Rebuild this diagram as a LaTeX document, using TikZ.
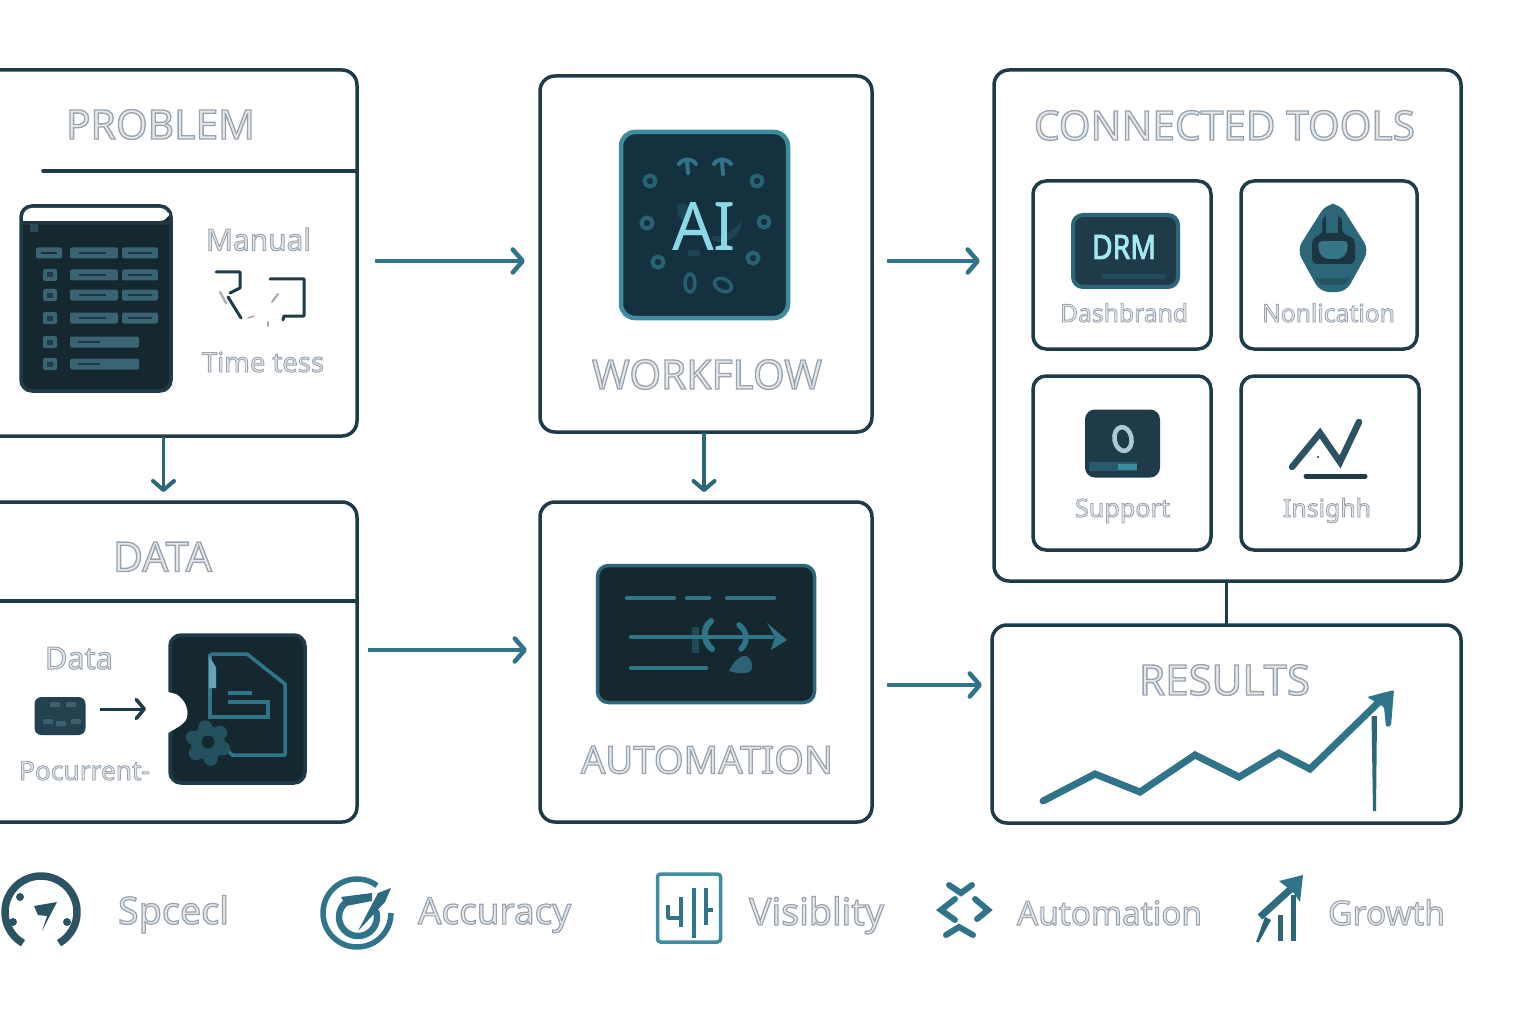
\documentclass[tikz,border=0pt]{standalone}
\usepackage{fontspec}
\usepackage{graphicx}
\setmainfont{Noto Sans}
\usetikzlibrary{arrows.meta,calc}
\definecolor{ink}{HTML}{1F3B49}
\definecolor{teal}{HTML}{2F7488}
\definecolor{tealmid}{HTML}{2B6779}
\definecolor{tealhi}{HTML}{3F8B9F}
\definecolor{deep}{HTML}{16282F}
\definecolor{deepb}{HTML}{15303E}
\definecolor{barfill}{HTML}{3A6373}
\definecolor{slate}{HTML}{2B5362}
\definecolor{labelfill}{HTML}{E6E9EB}
\definecolor{aiglow}{HTML}{8CD8E6}
\definecolor{drmglow}{HTML}{A5E8F0}
% Outlined caption of a given printed width: pale fill with a grey stroke
\newcommand{\ghost}[2]{\resizebox{#1pt}{!}{\color{labelfill}\special{pdf:code q 2 Tr 1.3 w 0.60 0.64 0.68 RG}#2\special{pdf:code Q}}}
\tikzset{
  panel/.style={draw=ink,line width=3.5pt,rounded corners=15pt,fill=white,inner sep=0pt,outer sep=0pt},
  tile/.style={draw=ink,line width=3.5pt,rounded corners=13pt,fill=white,inner sep=0pt,outer sep=0pt},
  caption/.style={anchor=base,inner sep=0pt,font=\fontsize{40}{40}\selectfont},
  flow/.style={draw=teal,line width=4pt,-{Straight Barb[length=10pt,width=23pt,line width=4.5pt,round]}},
  flowdown/.style={draw=tealmid,line width=3.5pt,-{Straight Barb[length=9pt,width=21pt,line width=4pt,round]}},
  bar/.style={fill=barfill,rounded corners=2pt},
  teallin/.style={draw=teal,line width=5pt,line cap=round},
  glow/.style={fill=teal},
  ring/.style={draw=teal!85!black,line width=4pt,fill=none}
}
\begin{document}
\begin{tikzpicture}[x=1pt,y=-1pt]
\clip (0,0) rectangle (1536,1024);
\fill[white] (0,0) rectangle (1536,1024);

% Main panels
\node[panel,minimum width=387pt,minimum height=366pt] (problem) at (163.5,253) {};
\node[panel,minimum width=387pt,minimum height=320pt] (data) at (163.5,662) {};
\node[panel,minimum width=332pt,minimum height=356pt] (workflow) at (706,254) {};
\node[panel,minimum width=332pt,minimum height=320pt] (automation) at (706,662) {};
\node[panel,minimum width=467pt,minimum height=511pt] (tools) at (1227.5,325.5) {};
\node[panel,minimum width=469pt,minimum height=198pt] (results) at (1226.5,724) {};

% Tool tiles
\node[tile,minimum width=178pt,minimum height=168pt] (dash) at (1122,265) {};
\node[tile,minimum width=176pt,minimum height=168pt] (notif) at (1329,265) {};
\node[tile,minimum width=178pt,minimum height=174pt] (support) at (1122,463) {};
\node[tile,minimum width=178pt,minimum height=174pt] (insight) at (1330,463) {};

% Header rules
\coordinate (probrule) at (43,171);
\draw[ink,line width=3.5pt,line cap=round] (probrule) -- (problem.east |- probrule);
\coordinate (datarule) at (0,601);
\draw[ink,line width=3.5pt] (datarule) -- (data.east |- datarule);

% Connectors
\draw[flow] ([xshift=18pt,yshift=-8pt]problem.east) -- ([xshift=-15pt,yshift=-7pt]workflow.west);
\draw[flow] ([xshift=15pt,yshift=-7pt]workflow.east) -- ([xshift=-14pt,yshift=64.5pt]tools.west);
\draw[flow] ([xshift=11pt,yshift=12pt]data.east) -- ([xshift=-13pt,yshift=12pt]automation.west);
\draw[flow] ([xshift=15pt,yshift=-23pt]automation.east) -- ([xshift=-10pt,yshift=39pt]results.west);
\draw[flowdown] ([yshift=-1pt]problem.south) -- ([yshift=10pt]data.north);
\draw[flowdown] ([xshift=-2pt,yshift=-1pt]workflow.south) -- ([xshift=-2pt,yshift=10pt]automation.north);
\draw[ink,line width=3.5pt] ([xshift=-1pt]tools.south) -- (results.north);

% Spreadsheet card
\node[draw=ink,line width=3.5pt,fill=deep,rounded corners=11pt,minimum width=150pt,minimum height=185pt,inner sep=0pt,outer sep=0pt] (sheet) at (96,298.5) {};
\fill[white,rounded corners=9pt] (23,221) -- (23,208) -- (169,208) -- (169,221) [sharp corners] -- cycle;
\fill[deep!75!barfill] (23,221) rectangle (169,225);
\fill[barfill!60!deep] (30,224) rectangle (38,232);
\foreach \yy in {253,275,295,318}{
  \fill[bar] (70,\yy-5.5) rectangle (118,\yy+5.5);
  \fill[bar] (122,\yy-5.5) rectangle (158,\yy+5.5);
  \draw[deep!75!barfill,line width=1.5pt] (79,\yy) -- (106,\yy);
  \draw[deep!75!barfill,line width=1.5pt] (128,\yy) -- (152,\yy);
}
\foreach \yy in {342,364}{
  \fill[bar] (70,\yy-5.5) rectangle (139,\yy+5.5);
  \draw[deep!75!barfill,line width=1.5pt] (78,\yy) -- (100,\yy);
}
\fill[bar] (36,247.5) rectangle (62,258.5);
\draw[deep!85!barfill,line width=1.5pt] (41,253) -- (57,253);
\foreach \yy in {275,295,318,342,364}{
  \fill[bar] (43,\yy-6) rectangle (57,\yy+6);
  \fill[deep!70!barfill] (47,\yy-2.5) rectangle (53,\yy+2.5);
}

% Hand-drawn mark between the problem captions
\draw[ink,line width=3pt,line join=round,line cap=round] (216,272) -- (240,272) -- (240,288) -- (230,293);
\draw[ink,line width=3pt,line cap=round] (228,297) -- (241,318);
\draw[ink,line width=3pt,line join=round,line cap=round] (270,279) -- (304,279) -- (304,316) -- (284,316) -- (283,320);
\draw[gray!60,line width=2.5pt,line cap=round] (220,292) -- (226,303);
\draw[gray!70,line width=1.5pt,line cap=round] (248,318) -- (254,316);
\draw[gray!70,line width=2pt,line cap=round] (272,302) -- (278,294);
\draw[gray!70,line width=2pt,line cap=round] (268,322) -- (268,326);

% Small chip and arrow in the data panel
\node[fill=ink!85!barfill,rounded corners=7pt,minimum width=51pt,minimum height=38pt,inner sep=0pt] (chip) at (60,716) {};
\foreach \xa/\ya in {50/702,66/702,43/719,56/721,71/719}{\fill[barfill!85!white,opacity=.55,rounded corners=1pt] (\xa,\ya) rectangle +(10,5);}
\coordinate (chiparrow) at (146,709);
\draw[ink,line width=3pt,-{Straight Barb[length=8pt,width=19pt,line width=3.5pt,round]}] (100,709) -- (chiparrow);

% Document card with gear
\node[draw=ink,line width=3.5pt,fill=deep,rounded corners=11pt,minimum width=135pt,minimum height=148pt,inner sep=0pt,outer sep=0pt] (doc) at (237.5,709) {};
\fill[white] (168,692) -- (176,694) .. controls (186,700) and (190,712) .. (186,720) .. controls (182,726) and (176,728) .. (168,733) -- cycle;
\draw[teal,line width=3.5pt,line join=round] (210,654) -- (247,654) -- (285,684) -- (285,755) -- (232,755) -- (222,744);
\draw[teal,line width=3.5pt] (210,654) -- (210,717) -- (268,717) -- (268,702) -- (228,702);
\draw[teal,line width=3.5pt] (228,693) -- (252,693);
\fill[tealhi!80!white] (209,656) -- (216,667) -- (216,688) -- (209,688) -- cycle;
\foreach \a in {20,80,...,320}{\fill[tealmid!65!deep] (208,743) ++(\a:16) circle (7pt);}
\fill[tealmid!65!deep] (208,743) circle (17pt);
\fill[deep] (208,742) circle (6.5pt);

% AI badge
\node[draw=tealhi,line width=4.5pt,fill=deepb,rounded corners=14pt,minimum width=167pt,minimum height=186pt,inner sep=0pt,outer sep=0pt] (aibadge) at (704.5,225) {};
\foreach \cx/\cy in {650/181,757/181,647/223,764/222,658/262,753/258}{
  \draw[ring] (\cx,\cy) ellipse (5.5pt and 5.5pt);
}
\draw[teal,line width=4pt,line cap=round] (679,164) .. controls (683,158) and (692,158) .. (696,164);
\draw[teal,line width=4pt,line cap=round] (687,161) -- (688,173);
\draw[teal,line width=4pt,line cap=round] (714,164) .. controls (718,158) and (726,158) .. (731,164);
\draw[teal,line width=4pt,line cap=round] (722,161) -- (723,174);
\draw[teal,opacity=.7,line width=3.5pt] (690,283) ellipse (5pt and 9pt);
\draw[teal,opacity=.7,line width=3.5pt,rotate around={-25:(723,285)}] (723,285) ellipse (9pt and 6pt);
\fill[glow,opacity=.3] (677,205) .. controls (685,200) and (692,205) .. (690,222) .. controls (680,222) and (675,215) .. (677,205) -- cycle;
\fill[glow,opacity=.3] (712,236) .. controls (722,238) and (735,230) .. (742,220) .. controls (740,238) and (725,246) .. (712,240) -- cycle;
\fill[glow,opacity=.3] (688,250) rectangle (700,256);
\node[anchor=base,inner sep=0pt,text=aiglow] (aiword) at (704,251) {\resizebox{64pt}{48pt}{\fontsize{64}{64}\selectfont\bfseries AI}};

% Automation screen
\node[draw=tealmid,line width=3.5pt,fill=deep,rounded corners=11pt,minimum width=217pt,minimum height=137pt,inner sep=0pt,outer sep=0pt] (screen) at (706,634) {};
\foreach \xa/\xb in {627/674,687/709,727/774}{\draw[teallin,line width=4.5pt] (\xa,598) -- (\xb,598);}
\draw[teallin,line width=4.5pt] (631,637) -- (772,637);
\draw[teallin,line width=4.5pt] (631,668) -- (706,668);
\fill[teal] (767,623) -- (787,640) -- (771,650) -- (775,637) -- cycle;
\draw[teal,line width=6pt,line cap=round] (711,621) .. controls (702,628) and (703,642) .. (712,649);
\draw[teal,line width=5.5pt,line cap=round] (739,625) .. controls (748,632) and (748,642) .. (741,649);
\fill[teal,opacity=.8] (729,671) .. controls (736,655) and (750,650) .. (752,665) .. controls (754,674) and (742,675) .. (729,671) -- cycle;
\fill[teal,opacity=.45] (692,627) rectangle (699,653);

% DRM badge
\node[draw=tealmid,line width=4pt,fill=ink,rounded corners=10pt,minimum width=105pt,minimum height=72pt,inner sep=0pt,outer sep=0pt] (drm) at (1125.5,251) {};
\fill[teal,opacity=.3] (1102,274) rectangle (1165,279);
\node[anchor=base,inner sep=0pt,text=drmglow] (drmword) at (1124,259) {\resizebox{64pt}{24pt}{\fontsize{32}{32}\selectfont\special{pdf:code q 2 Tr 0.9 w 0.65 0.91 0.94 RG}DRM\special{pdf:code Q}}};

% Notification bell
\fill[tealmid,rounded corners=9pt] (1326,204) -- (1340,204) -- (1369,250) -- (1346,292) -- (1320,292) -- (1297,250) -- cycle;
\fill[ink!70!deep,rounded corners=5pt] (1312,238) -- (1323,234) -- (1322,216) -- (1342,216) -- (1342,234) -- (1355,238) -- (1355,264) -- (1312,264) -- cycle;
\fill[tealmid] (1326,214) rectangle (1338,233);
\fill[tealhi!85!black,rounded corners=4pt] (1318,241) -- (1348,241) -- (1347,253) -- (1341,259) -- (1325,259) -- (1319,253) -- cycle;
\fill[ink!50!tealmid] (1316,278) -- (1350,278) -- (1344,285) -- (1322,285) -- cycle;

% Support badge
\node[draw=ink,line width=2pt,fill=ink,rounded corners=9pt,minimum width=73pt,minimum height=66pt,inner sep=0pt,outer sep=0pt] (helpbadge) at (1122.5,443.5) {};
\draw[tealhi!45!white,line width=4.5pt,rotate around={10:(1123,439)}] (1123,439) ellipse (8.5pt and 12pt);
\draw[ink,line width=1.8pt] (1123,433) .. controls (1127,438) and (1125,443) .. (1122,445);
\fill[teal!55!ink] (1089,462) rectangle (1137,471);
\fill[tealhi] (1118,464) rectangle (1137,470);

% Insight chart
\draw[slate,line width=6.5pt,line cap=round,line join=miter] (1292,467) -- (1320,433) -- (1340,462) -- (1359,422);
\draw[ink,line width=5pt,line cap=round] (1306,476) -- (1365,476);
\fill[ink] (1318,457) circle (1.2pt);

% Results chart
\coordinate (trendend) at (1380,701);
\draw[teal,line width=7pt,line join=miter,line cap=round] (1043,801) -- (1095,774) -- (1140,792) -- (1195,755) -- (1239,777) -- (1279,753) -- (1310,769) -- (trendend);
\fill[teal,rounded corners=1.5pt] (1367,697) -- (1394,690) -- (1391,726) -- (1386,727) -- (1384,707) -- cycle;
\fill[tealmid] (1371.5,716) -- (1377,716) -- (1376,811) -- (1373,811) -- cycle;

% Legend: speed gauge
\draw[slate,line width=7.5pt] (41,912) ++(120:36) arc[start angle=120,end angle=420,radius=36];
\fill[slate] (20,897) circle (4pt);
\fill[slate] (13,922) circle (4pt);
\fill[slate] (67,922) circle (4pt);
\fill[slate] (34,906) -- (57,902) -- (42,931) -- (47,916) -- (38,915) -- cycle;

% Legend: accuracy target
\draw[teal,line width=5.5pt] (357,913) ++(306:34) arc[start angle=306,end angle=0,radius=34];
\draw[teal,line width=6.5pt] (358,917) ++(-20:19) arc[start angle=-20,end angle=250,radius=19];
\fill[teal!85!ink] (341,897) -- (372,893) -- (372,901) -- (346,906) -- cycle;
\fill[teal!85!ink] (358,931) -- (378,893) -- (391,888) -- (385,902) -- cycle;

% Legend: visibility panel
\node[draw=tealhi,line width=3.5pt,rounded corners=3pt,minimum width=63pt,minimum height=68pt,inner sep=0pt,outer sep=0pt] (vispanel) at (689,908) {};
\draw[teal,line width=3.5pt,line join=round] (668,905) -- (668,918) -- (681,918);
\draw[teal,line width=3.5pt] (681,897) -- (681,927);
\draw[teal,line width=3.5pt] (694,888) -- (694,938);
\draw[teal,line width=3.5pt] (706,888) -- (706,925);
\draw[teal,line width=3.5pt] (706,910) -- (713,910);

% Legend: automation arrows
\begin{scope}[draw=teal,line width=6pt,line cap=round,line join=miter]
\draw (949,885) -- (961,893) -- (972,885);
\draw (955,899) -- (941,910) -- (955,920);
\draw (975,899) -- (988,910) -- (977,919);
\draw (946,935) -- (959,927) -- (973,935);
\end{scope}

% Legend: growth arrow
\draw[teal!85!ink,line width=7pt] (1260,917) -- (1293,887);
\fill[teal] (1279,881) -- (1303,875) -- (1300,902) -- (1293,892) -- cycle;
\fill[teal!70!ink] (1265,917) -- (1271,920) -- (1259,942) -- (1256,942) -- cycle;
\draw[tealmid,line width=5pt] (1280,915) -- (1280,941);
\draw[tealmid,line width=5pt] (1293,895) -- (1293,941);

% Captions
\node[caption] (tproblem) at (160.5,139) {\ghost{189}{PROBLEM}};
\node[caption] (tmanual) at (258.5,250.5) {\ghost{105}{Manual}};
\node[caption] (ttime) at (263,372) {\ghost{122}{Time tess}};
\node[caption] (tdata) at (162.5,571.5) {\ghost{99}{DATA}};
\node[caption] (tdatasmall) at (79,669) {\ghost{68}{Data}};
\node[caption] (tpocur) at (84.5,780) {\ghost{131}{Pocurrent-}};
\node[caption] (tworkflow) at (707,389) {\ghost{230}{WORKFLOW}};
\node[caption] (tauto) at (707,773.5) {\ghost{252}{AUTOMATION}};
\node[caption] (ttools) at (1224.5,140) {\ghost{381}{CONNECTED TOOLS}};
\node[caption] (tresults) at (1224.5,695) {\ghost{171}{RESULTS}};
\node[caption] (tdash) at (1124,322) {\ghost{128}{Dashbrand}};
\node[caption] (tnon) at (1328.5,322) {\ghost{133}{Nonlication}};
\node[caption] (tsup) at (1122.5,517) {\ghost{95}{Support}};
\node[caption] (tins) at (1327,517) {\ghost{88}{Insighh}};
\node[caption] (lspeed) at (173.5,924) {\ghost{111}{Spcecl}};
\node[caption] (laccur) at (494.5,924) {\ghost{153}{Accuracy}};
\node[caption] (lvis) at (816.5,925) {\ghost{135}{Visiblity}};
\node[caption] (lauto) at (1109.5,925) {\ghost{185}{Automation}};
\node[caption] (lgrow) at (1386.5,925) {\ghost{117}{Growth}};
\end{tikzpicture}
\end{document}
